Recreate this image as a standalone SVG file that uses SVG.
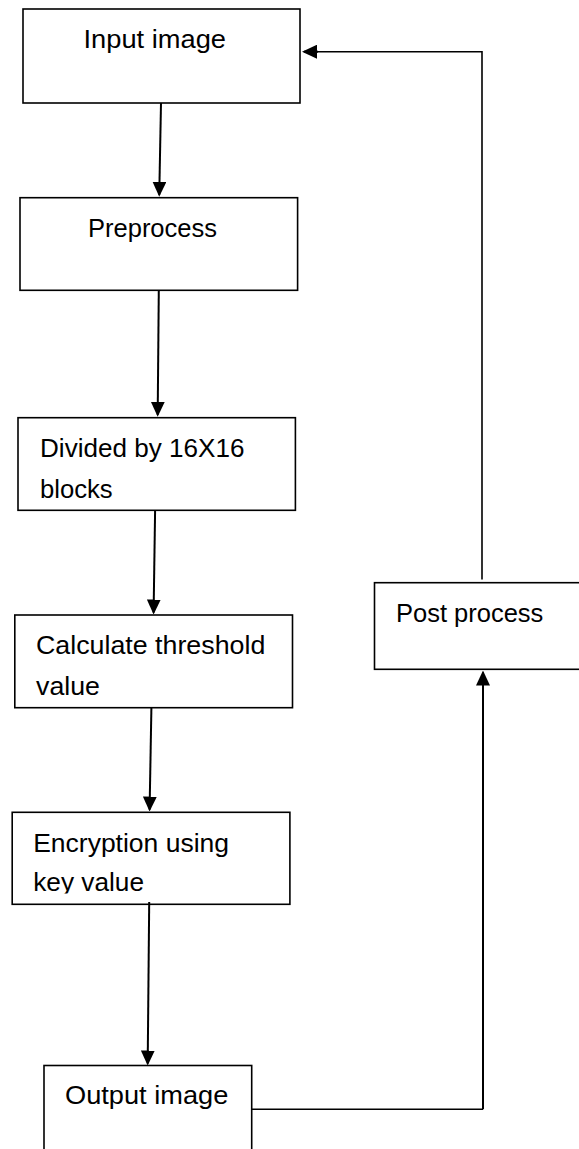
<svg xmlns="http://www.w3.org/2000/svg" width="579" height="1149" viewBox="0 0 579 1149">
  <style>
    .box { fill: #ffffff; stroke: #000000; stroke-width: 1.6; }
    .label { font-family: "Liberation Sans", Arial, sans-serif; font-size: 26px; fill: #000000; }
    .flow { fill: none; stroke: #000000; stroke-width: 2; marker-end: url(#arrow); }
    .loop { fill: none; stroke: #000000; stroke-width: 1.6; }
  </style>
  <defs>
    <marker id="arrow" viewBox="0 0 15 14" refX="13" refY="7" markerWidth="15" markerHeight="14" markerUnits="userSpaceOnUse" orient="auto">
      <path d="M0,0 L15,7 L0,14 z" fill="#000000"/>
    </marker>
    <clipPath id="clip-encrypt">
      <rect x="0" y="800" width="300" height="93.5"/>
    </clipPath>
  </defs>
  <rect width="579" height="1149" fill="#ffffff"/>

  <g id="input-image">
    <rect class="box" x="23" y="9" width="277" height="94"/>
    <text class="label" x="83.5" y="48" textLength="142.5" lengthAdjust="spacingAndGlyphs">Input image</text>
  </g>

  <g id="preprocess">
    <rect class="box" x="20" y="197.7" width="277.6" height="92.6"/>
    <text class="label" x="88" y="236.7" textLength="129" lengthAdjust="spacingAndGlyphs">Preprocess</text>
  </g>

  <g id="divide-blocks">
    <rect class="box" x="18" y="417.7" width="277.4" height="92.6"/>
    <text class="label" x="40" y="456.7" textLength="204.5" lengthAdjust="spacingAndGlyphs">Divided by 16X16</text>
    <text class="label" x="40" y="498.3" textLength="72.7" lengthAdjust="spacingAndGlyphs">blocks</text>
  </g>

  <g id="threshold">
    <rect class="box" x="14.8" y="615" width="277.7" height="92.7"/>
    <text class="label" x="36" y="654.3" textLength="229.3" lengthAdjust="spacingAndGlyphs">Calculate threshold</text>
    <text class="label" x="36" y="695" textLength="64" lengthAdjust="spacingAndGlyphs">value</text>
  </g>

  <g id="encryption">
    <rect class="box" x="12.2" y="812.3" width="277.7" height="92"/>
    <g clip-path="url(#clip-encrypt)">
      <text class="label" x="33.2" y="851.7" textLength="195.8" lengthAdjust="spacingAndGlyphs">Encryption using</text>
      <text class="label" x="33.2" y="890.5" textLength="110.8" lengthAdjust="spacingAndGlyphs">key value</text>
    </g>
  </g>

  <g id="output-image">
    <rect class="box" x="44" y="1065.5" width="207.7" height="120"/>
    <text class="label" x="65" y="1104.3" textLength="163.3" lengthAdjust="spacingAndGlyphs">Output image</text>
  </g>

  <g id="post-process">
    <rect class="box" x="374.5" y="582.7" width="240" height="86.6"/>
    <text class="label" x="396" y="622" textLength="147.3" lengthAdjust="spacingAndGlyphs">Post process</text>
  </g>

  <g id="connectors">
    <path class="flow" d="M161,103 L159.25,194.7"/>
    <path class="flow" d="M158.8,290 L157.7,414.7"/>
    <path class="flow" d="M155.1,510.3 L153.6,612.5"/>
    <path class="flow" d="M151.4,707.7 L149.6,809.5"/>
    <path class="flow" d="M149.2,902 L147.7,1063.5"/>
    <!-- loop back: output -> post process -> input -->
    <path class="loop" d="M251.7,1109.3 L483,1109.3"/>
    <path class="flow" d="M483,1109.3 L483,672.5"/>
    <path class="loop" d="M482,579.5 L482,51.7 L317,51.7"/>
    <path class="flow" d="M318,51.7 L304,51.7"/>
  </g>
</svg>
